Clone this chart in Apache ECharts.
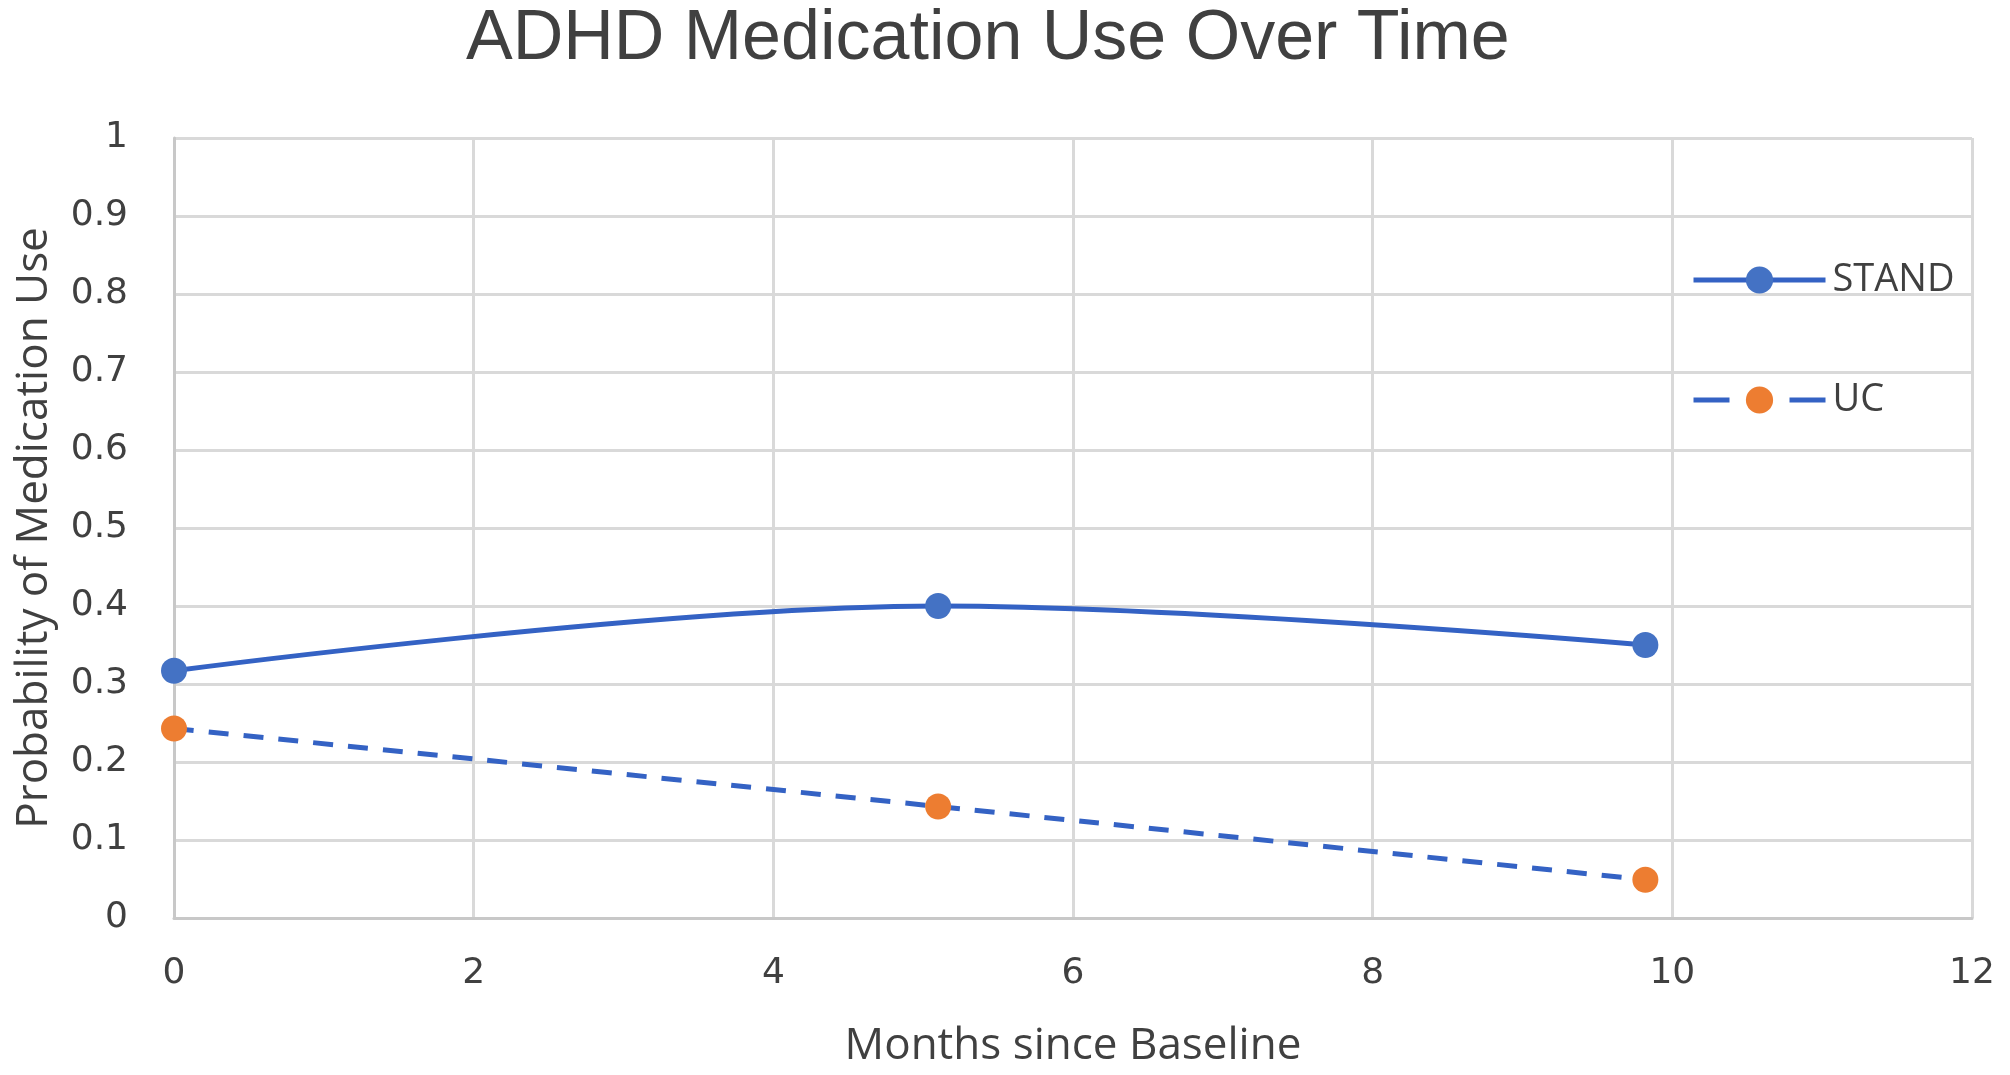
<!DOCTYPE html>
<html>
<head>
<meta charset="utf-8">
<script src="https://cdn.jsdelivr.net/npm/echarts@6/dist/echarts.min.js"></script>
<style>html,body{margin:0;padding:0;background:#fff}#c{width:2010px;height:1075px}</style>
</head>
<body>
<div id="c"></div>
<script>
const titleText = "ADHD Medication Use Over Time";
const xAxisName = "Months since Baseline";
const yAxisName = "Probability of Medication Use";
const seriesNames = ["STAND", "UC"];
const months = [0, 5.1, 9.82];
const standValues = [0.317, 0.400, 0.350];
const ucValues = [0.243, 0.143, 0.049];

const chart = echarts.init(document.getElementById('c'));
const labelFont = "'Liberation Sans', Arial, sans-serif";
const pair = (xs, ys) => xs.map((x, i) => [x, ys[i]]);
chart.setOption({
  animation: false,
  title: {
    text: titleText, left: 466, top: 5, padding: 0,
    textStyle: {fontFamily: labelFont, fontSize: 70, fontWeight: 'normal', color: '#404040'}
  },
  legend: {
    orient: 'vertical', left: 1686, top: 256, itemGap: 82,
    itemWidth: 132, itemHeight: 34,
    lineStyle: {width: 5},
    textStyle: {fontFamily: "'Open Sans', sans-serif", fontSize: 38, color: '#404040', padding: [0,0,0,2]},
    data: [
      {name: seriesNames[0]},
      {name: seriesNames[1], lineStyle: {width: 5, type: [36, 60]}}
    ]
  },
  grid: {left: 174, right: 38, top: 138, bottom: 157},
  xAxis: {
    type: 'value', min: 0, max: 12, interval: 2,
    name: xAxisName, nameLocation: 'middle', nameGap: 106,
    nameTextStyle: {fontFamily: "'Open Sans', sans-serif", fontSize: 44, color: '#404040'},
    axisLine: {lineStyle: {color: '#c8c8c8', width: 3}},
    axisTick: {show: false},
    axisLabel: {fontFamily: "'DejaVu Sans', sans-serif", fontSize: 36, color: '#404040', margin: 38},
    splitLine: {show: true, lineStyle: {color: '#d9d9d9', width: 3}}
  },
  yAxis: {
    type: 'value', min: 0, max: 1, interval: 0.1,
    name: yAxisName, nameLocation: 'middle', nameGap: 118, nameRotate: 90,
    nameTextStyle: {fontFamily: "'Open Sans', sans-serif", fontSize: 44, color: '#404040'},
    axisLine: {show: true, lineStyle: {color: '#c8c8c8', width: 3}},
    axisTick: {show: false},
    axisLabel: {fontFamily: "'DejaVu Sans', sans-serif", fontSize: 36, color: '#404040', margin: 46,
      formatter: v => (Math.round(v*10)/10).toString()},
    splitLine: {show: true, lineStyle: {color: '#d9d9d9', width: 3}}
  },
  series: [
    {
      name: seriesNames[0], type: 'line', data: pair(months, standValues),
      smooth: 0.35, symbol: 'circle', symbolSize: 26,
      lineStyle: {color: '#3462c4', width: 5},
      itemStyle: {color: '#4472c4'}
    },
    {
      name: seriesNames[1], type: 'line', data: pair(months, ucValues),
      smooth: 0.3, symbol: 'circle', symbolSize: 26,
      lineStyle: {color: '#3462c4', width: 5, type: [20, 15]},
      itemStyle: {color: '#ed7d31'}
    }
  ]
});
</script>
</body>
</html>
